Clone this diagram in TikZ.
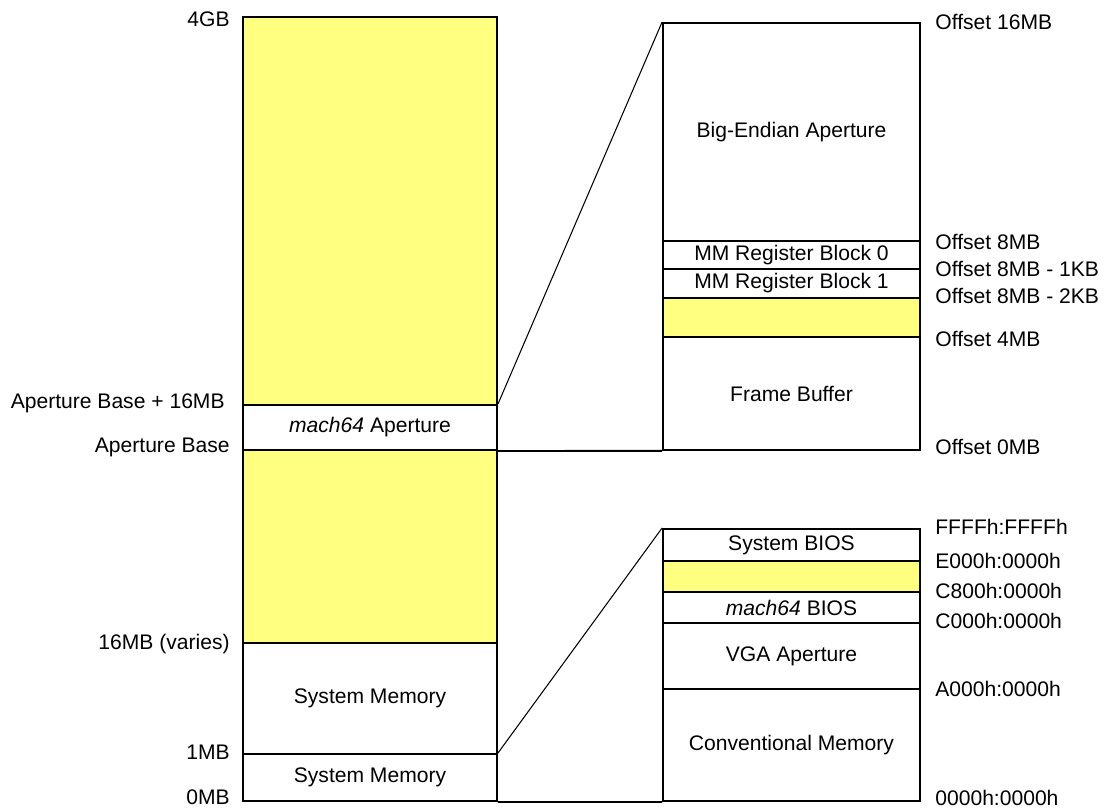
\documentclass[tikz,border=0pt]{standalone}
\usepackage{fontspec}
\setmainfont{Liberation Sans}
\definecolor{holeyellow}{RGB}{255,255,128}

\begin{document}
\begin{tikzpicture}[x=0.02cm, y=-0.02cm, font=\fontsize{12}{14}\selectfont,
    mapbox/.style={rectangle, draw, line width=1.1pt, inner sep=0pt},
    leftcol/.style={mapbox, minimum width=5.08cm},
    rightcol/.style={mapbox, minimum width=5.14cm},
    hole/.style={fill=holeyellow},
    addr/.style={inner sep=0pt}]
    \useasboundingbox (0,0) rectangle (1108,808);

    % main address space
    \node[leftcol, hole, minimum height=7.76cm] (high) at (370, 211) {};
    \node[leftcol, minimum height=0.9cm] (aper) at (370, 427.5) {\textit{mach64} Aperture};
    \node[leftcol, hole, minimum height=3.86cm] (mid) at (370, 546.5) {};
    \node[leftcol, minimum height=2.22cm] (sysmem) at (370, 698.5) {System Memory};
    \node[leftcol, minimum height=0.94cm] (lowmem) at (370, 777.5) {System Memory};

    % aperture detail
    \node[rightcol, minimum height=4.36cm] (bigend) at (791.5, 132) {Big-Endian Aperture};
    \node[rightcol, minimum height=0.56cm] (mmreg0) at (791.5, 255) {MM Register Block 0};
    \node[rightcol, minimum height=0.58cm] (mmreg1) at (791.5, 283.5) {MM Register Block 1};
    \node[rightcol, hole, minimum height=0.78cm] (gap) at (791.5, 317.5) {};
    \node[rightcol, minimum height=2.26cm] (fbuf) at (791.5, 393.5) {Frame Buffer};

    % first megabyte detail
    \node[rightcol, minimum height=0.64cm] (sysbios) at (791.5, 545) {System BIOS};
    \node[rightcol, hole, minimum height=0.62cm] (biosgap) at (791.5, 576.5) {};
    \node[rightcol, minimum height=0.62cm] (vgabios) at (791.5, 607.5) {\textit{mach64} BIOS};
    \node[rightcol, minimum height=1.32cm] (vga) at (791.5, 656) {VGA Aperture};
    \node[rightcol, minimum height=2.24cm] (conv) at (791.5, 745) {Conventional Memory};

    % left addresses
    \node[addr, anchor=east] (a4g) at (230, 19) {4GB};
    \node[addr, anchor=east] (aptop) at (225, 403) {Aperture Base + 16MB};
    \node[addr, anchor=east] (apbase) at (230, 447) {Aperture Base};
    \node[addr, anchor=east] (a16m) at (230, 644) {16MB (varies)};
    \node[addr, anchor=east] (a1m) at (230, 752) {1MB};
    \node[addr, anchor=east] (a0m) at (230, 797) {0MB};

    % aperture offsets
    \node[addr, anchor=west] (o16) at (935, 22) {Offset 16MB};
    \node[addr, anchor=west] (o8) at (935, 242) {Offset 8MB};
    \node[addr, anchor=west] (o8a) at (935, 269) {Offset 8MB - 1KB};
    \node[addr, anchor=west] (o8b) at (935, 296) {Offset 8MB - 2KB};
    \node[addr, anchor=west] (o4) at (935, 339) {Offset 4MB};
    \node[addr, anchor=west] (o0) at (935, 447) {Offset 0MB};

    % real mode addresses
    \node[addr, anchor=west] (sffff) at (935, 527) {FFFFh:FFFFh};
    \node[addr, anchor=west] (se000) at (935, 561) {E000h:0000h};
    \node[addr, anchor=west] (sc800) at (935, 591) {C800h:0000h};
    \node[addr, anchor=west] (sc000) at (935, 621) {C000h:0000h};
    \node[addr, anchor=west] (sa000) at (935, 689) {A000h:0000h};
    \node[addr, anchor=west] (s0000) at (935, 798) {0000h:0000h};

    \draw[line width=0.6pt] (aper.north east) -- (bigend.north west);
    \draw[line width=1.1pt] (aper.south east) -- (fbuf.south west);
    \draw[line width=0.6pt] (lowmem.north east) -- (sysbios.north west);
    \draw[line width=1.1pt] (lowmem.south east) -- (conv.south west);
\end{tikzpicture}
\end{document}
